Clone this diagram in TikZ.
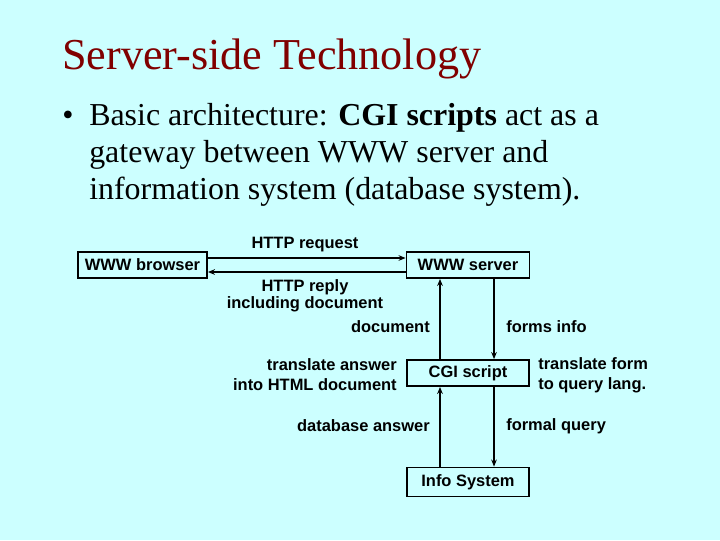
\documentclass[tikz,border=0pt]{standalone}
\usepackage{fontspec}
\setmainfont{Liberation Serif}
\newfontfamily\diagfont{Liberation Sans}
\usetikzlibrary{arrows.meta}
\definecolor{bgcyan}{RGB}{204,255,255}
\definecolor{titlered}{RGB}{128,0,0}
\begin{document}
\begin{tikzpicture}[x=0.025cm,y=-0.025cm,
  box/.style={draw=black,line width=1.3pt,fill=bgcyan,inner sep=0pt,
    font=\diagfont\bfseries\fontsize{11.7}{14}\selectfont},
  lbl/.style={inner sep=0pt,font=\diagfont\bfseries\fontsize{11.7}{14}\selectfont},
  conn/.style={line width=1.2pt,-{Stealth[length=5pt,width=4pt]}}]
\fill[bgcyan] (0,0) rectangle (720,540);
\useasboundingbox (0,0) rectangle (720,540);
% title
\node[anchor=base west,inner sep=0pt,text=titlered,font=\fontsize{31.4}{36}\selectfont] (title) at (62,69) {Server-side Technology};
% bullet text
\node[anchor=base west,inner sep=0pt,font=\fontsize{22.7}{26}\selectfont] (bul) at (62,125) {\textbullet};
\node[anchor=base west,inner sep=0pt,font=\fontsize{22.7}{26}\selectfont] (l1) at (89,125) {Basic architecture: \textbf{CGI scripts} act as a};
\node[anchor=base west,inner sep=0pt,font=\fontsize{22.7}{26}\selectfont] (l2) at (89,162) {gateway between WWW server and};
\node[anchor=base west,inner sep=0pt,font=\fontsize{22.7}{26}\selectfont] (l3) at (89,199) {information system (database system).};
% boxes
\node[box,minimum width=129*0.025cm,minimum height=26*0.025cm] (browser) at (142.5,265) {WWW browser};
\node[box,minimum width=123*0.025cm,minimum height=26*0.025cm] (server) at (468,265) {WWW server};
\node[box,minimum width=122*0.025cm,minimum height=26*0.025cm] (cgi) at (468,373) {CGI script};
\node[box,minimum width=122*0.025cm,minimum height=29*0.025cm] (info) at (468,482) {Info System};
% connectors
\draw[conn] ([yshift=0.175cm]browser.east) -- ([yshift=0.175cm]server.west);
\draw[conn] ([yshift=-0.175cm]server.west) -- ([yshift=-0.175cm]browser.east);
\draw[conn] ([xshift=-0.7cm]cgi.north) -- ([xshift=-0.7cm]server.south);
\draw[conn] ([xshift=0.65cm]server.south) -- ([xshift=0.65cm]cgi.north);
\draw[conn] ([xshift=-0.7cm]info.north) -- ([xshift=-0.7cm]cgi.south);
\draw[conn] ([xshift=0.65cm]cgi.south) -- ([xshift=0.65cm]info.north);
% labels
\node[lbl] (lreq) at (305,245) {HTTP request};
\node[lbl,align=center,font=\diagfont\bfseries\fontsize{11.7}{12}\selectfont] (lrep) at (305,295.5) {HTTP reply\\including document};
\node[lbl,anchor=east] (ldoc) at (430,327) {document};
\node[lbl,anchor=west] (lforms) at (506,327) {forms info};
\node[lbl,anchor=east,align=right,font=\diagfont\bfseries\fontsize{11.7}{14.2}\selectfont] (ltrans) at (397,375) {translate answer\\into HTML document};
\node[lbl,anchor=west,align=left,font=\diagfont\bfseries\fontsize{11.7}{14.2}\selectfont] (ltransf) at (538,375) {translate form\\to query lang.};
\node[lbl,anchor=east] (ldb) at (430,426) {database answer};
\node[lbl,anchor=west] (lfq) at (506,426) {formal query};
\end{tikzpicture}
\end{document}
